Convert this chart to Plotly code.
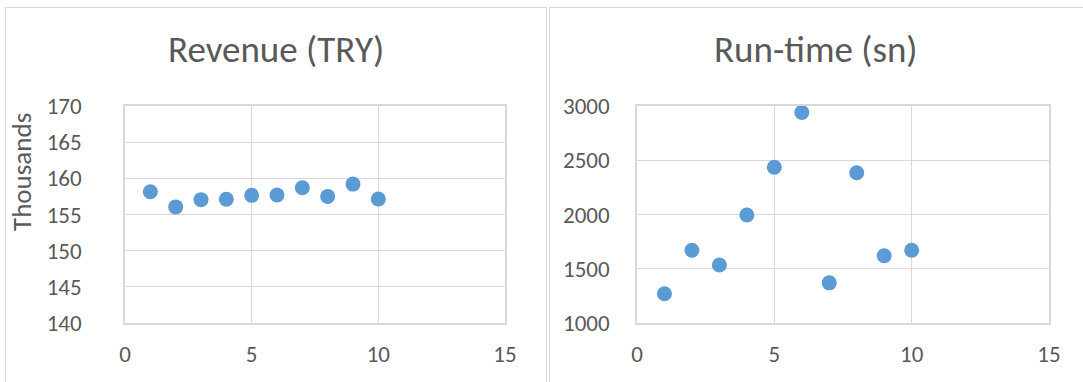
import plotly.graph_objects as go

# Test runs and their measurements
runs = [1, 2, 3, 4, 5, 6, 7, 8, 9, 10]
revenue_try = [158150, 156050, 157050, 157100, 157650, 157700, 158700, 157500, 159200, 157150]
runtime_sn = [1270, 1670, 1535, 1995, 2435, 2940, 1370, 2385, 1620, 1670]

x_ticks = [0, 5, 10, 15]
revenue_ticks = [140, 145, 150, 155, 160, 165, 170]
runtime_ticks = [1000, 1500, 2000, 2500, 3000]

W, H = 1083, 382
BLUE = "#5B9BD5"
GRID = "#D9D9D9"
TEXT = "#595959"
FONT = "Calibri, Carlito, Lato, sans-serif"


def px(x):
    return x / W


def py(y):
    return 1 - y / H


fig = go.Figure()

fig.add_trace(go.Scatter(
    x=runs, y=[v / 1000 for v in revenue_try], mode="markers",
    marker=dict(color=BLUE, size=15, line=dict(width=0)),
    xaxis="x", yaxis="y", showlegend=False,
))
fig.add_trace(go.Scatter(
    x=runs, y=runtime_sn, mode="markers",
    marker=dict(color=BLUE, size=15, line=dict(width=0)),
    xaxis="x2", yaxis="y2", showlegend=False,
))

axis_common = dict(
    showgrid=True, gridcolor=GRID, gridwidth=1,
    showline=True, mirror=True, linecolor=GRID, linewidth=1.5,
    zeroline=False, ticks="", automargin=False,
    tickfont=dict(family=FONT, size=23, color=TEXT),
    fixedrange=True,
)

fig.update_layout(
    width=W, height=H,
    margin=dict(l=0, r=0, t=0, b=0, pad=0, autoexpand=False),
    paper_bgcolor="white", plot_bgcolor="white",
    xaxis=dict(domain=[px(125), px(505)], range=[0, 15], tickvals=x_ticks,
               anchor="y", ticklabelstandoff=10, **axis_common),
    yaxis=dict(domain=[py(323), py(106)], range=[140, 170], tickvals=revenue_ticks,
               anchor="x", ticklabelstandoff=37, **axis_common),
    xaxis2=dict(domain=[px(637), px(1049)], range=[0, 15], tickvals=x_ticks,
                anchor="y2", ticklabelstandoff=10, **axis_common),
    yaxis2=dict(domain=[py(323), py(106)], range=[1000, 3000], tickvals=runtime_ticks,
                anchor="x2", ticklabelstandoff=21, **axis_common),
    shapes=[
        dict(type="rect", xref="paper", yref="paper",
             x0=px(5.5), x1=px(546.5), y0=py(400), y1=py(7.5),
             line=dict(color=GRID, width=1.2), fillcolor="rgba(0,0,0,0)", layer="below"),
        dict(type="rect", xref="paper", yref="paper",
             x0=px(549.5), x1=px(1100), y0=py(400), y1=py(7.5),
             line=dict(color=GRID, width=1.2), fillcolor="rgba(0,0,0,0)", layer="below"),
    ],
    annotations=[
        dict(text="Revenue (TRY)", xref="paper", yref="paper",
             x=px(276), y=py(49), xanchor="center", yanchor="middle",
             showarrow=False, font=dict(family=FONT, size=37, color=TEXT)),
        dict(text="Run-time (sn)", xref="paper", yref="paper",
             x=px(816), y=py(49), xanchor="center", yanchor="middle",
             showarrow=False, font=dict(family=FONT, size=37, color=TEXT)),
        dict(text="Thousands", xref="paper", yref="paper",
             x=px(22), y=py(172), xanchor="center", yanchor="middle", textangle=-90,
             showarrow=False, font=dict(family=FONT, size=27, color=TEXT)),
    ],
)

fig.write_html("out.html", include_plotlyjs=True, config={"displayModeBar": False})
